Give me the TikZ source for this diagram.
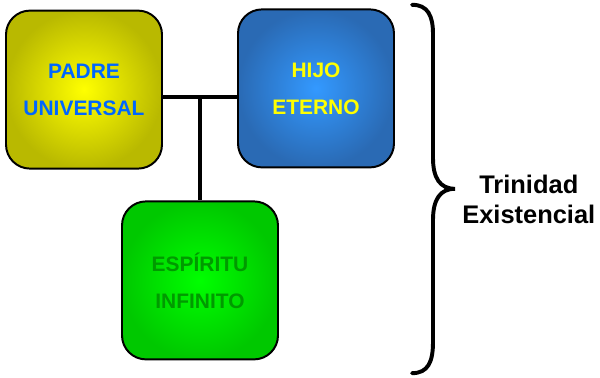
\documentclass[tikz,border=0pt]{standalone}
\usepackage{fontspec}
\setmainfont{Liberation Sans}
\definecolor{padreIn}{HTML}{FFFF00}
\definecolor{padreOut}{HTML}{B9B900}
\definecolor{padreText}{HTML}{0066FF}
\definecolor{hijoIn}{HTML}{3399FF}
\definecolor{hijoOut}{HTML}{2A6AB4}
\definecolor{hijoText}{HTML}{FFFF00}
\definecolor{espIn}{HTML}{00FF00}
\definecolor{espOut}{HTML}{00C800}
\definecolor{espText}{HTML}{009A00}
\begin{document}
\begin{tikzpicture}[
            box/.style={draw, line width=1.4pt, rounded corners=0.6cm, minimum width=3.9cm, minimum height=3.95cm,
                shading=radial, align=center, font=\bfseries\fontsize{14.9}{26.3}\selectfont},
            link/.style={line width=2.8pt}]
            \useasboundingbox (0,0) rectangle (15,-9.45);
            \node[box, inner color=padreIn, outer color=padreOut, text=padreText] (padre) at (2.1,-2.24) {PADRE\\UNIVERSAL};
            \node[box, inner color=hijoIn, outer color=hijoOut, text=hijoText] (hijo) at (7.9,-2.21) {HIJO\\ETERNO};
            \node[box, inner color=espIn, outer color=espOut, text=espText] (espiritu) at (5.0,-7.01) {ESPÍRITU\\INFINITO};
            \coordinate (tee) at (5.0,-2.425);

            \draw[link] (padre.east |- tee) -- (hijo.west |- tee);
            \draw[link] (tee) -- (espiritu.north);
            \draw[link, line cap=round] (10.3,-0.12) .. controls (10.7,-0.12) and (10.825,-0.4) .. (10.825,-0.85)
                -- (10.825,-3.95) .. controls (10.825,-4.45) and (11.0,-4.72) .. (11.375,-4.72)
                .. controls (11.0,-4.72) and (10.825,-4.99) .. (10.825,-5.5)
                -- (10.825,-8.55) .. controls (10.825,-9.05) and (10.7,-9.33) .. (10.3,-9.33);
            \node[align=center, font=\bfseries\fontsize{18.1}{21.3}\selectfont] (trinidad) at (13.22,-4.98) {Trinidad\\Existencial};
        \end{tikzpicture}
\end{document}
